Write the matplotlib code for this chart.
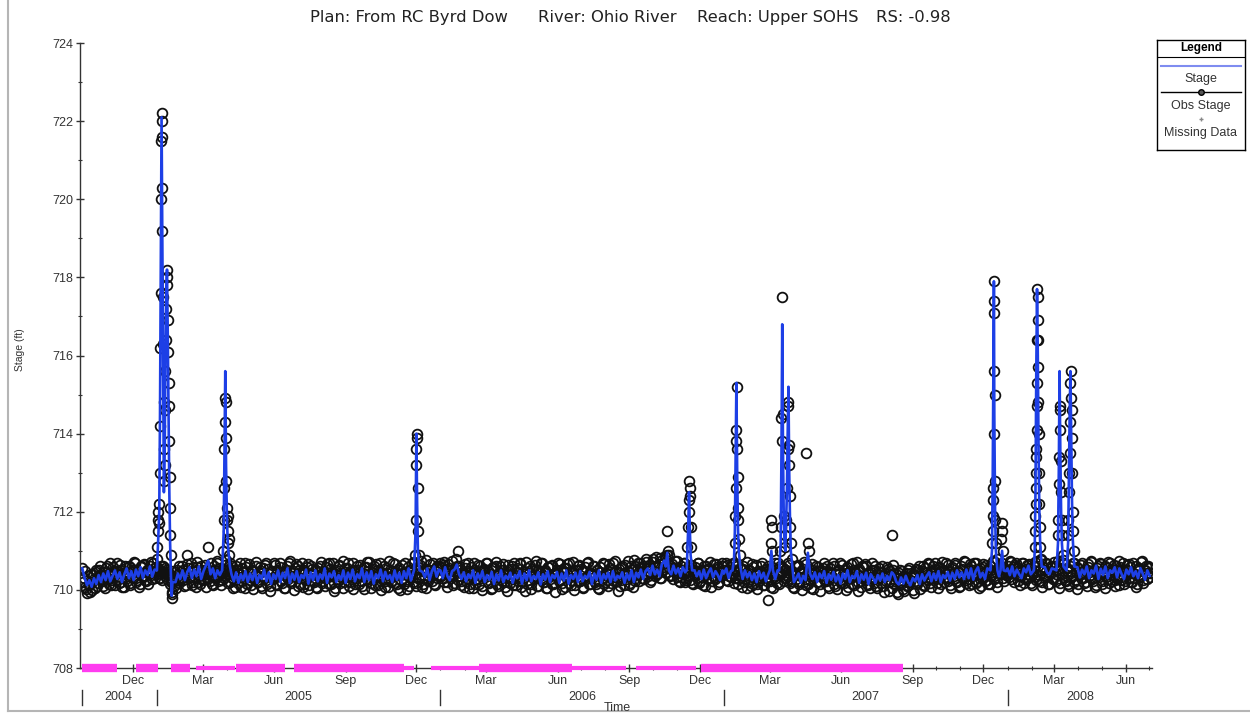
import numpy as np
import matplotlib
matplotlib.use('Agg')
import matplotlib.pyplot as plt
import matplotlib.dates as mdates
from matplotlib.lines import Line2D
from matplotlib.ticker import MultipleLocator
from matplotlib.transforms import blended_transform_factory

plt.rcParams['font.family'] = ['Liberation Sans', 'DejaVu Sans']

# computed stage, one value every 3 days, hundredths of a foot above 710 ft
stage_2004 = [55, 30, 12, 25, 8, 30, 15, 38, 20, 42, 25, 48, 22, 36, 50, 28,
              45, 20, 40, 55, 30, 48, 25, 52, 35, 58, 30, 50, 38, 60, 34, 52]
stage_2005 = [40, 45, 50, 48, 42, 38, 35, 12, 20, 42,
              28, 50, 25, 45, 58, 30, 52, 35, 60, 28,
              48, 62, 75, 40, 55, 30, 50, 38, 45, 60,
              58, 50, 40, 22, 45, 18, 40, 25, 48, 20,
              42, 25, 50, 18, 38, 28, 52, 22, 45, 15,
              40, 28, 50, 20, 44, 30, 55, 18, 42, 26,
              48, 20, 38, 30, 52, 16, 45, 25, 50, 22,
              40, 28, 55, 18, 42, 32, 48, 20, 38, 26,
              50, 18, 44, 28, 52, 22, 40, 30, 55, 20,
              45, 25, 48, 16, 40, 30, 52, 22, 46, 28,
              38, 20, 50, 26, 44, 18, 48, 30, 55, 24,
              42, 35, 50, 28, 46, 32, 55, 25, 48, 60, 34, 52]
stage_2006 = [50, 30, 58, 35, 25, 48, 52, 65, 40, 28,
              45, 22, 40, 30, 50, 18, 42, 28, 48, 20,
              38, 26, 46, 15, 40, 24, 50, 20, 36, 28,
              44, 18, 38, 30, 48, 16, 42, 25, 50, 22,
              36, 28, 45, 14, 40, 26, 48, 20, 38, 30,
              46, 18, 42, 24, 50, 16, 38, 28, 44, 20,
              48, 22, 36, 30, 46, 15, 42, 26, 50, 18,
              40, 28, 44, 20, 48, 24, 36, 30, 45, 18,
              42, 26, 50, 20, 44, 32, 52, 28, 48, 55,
              38, 62, 40, 52, 35, 66, 75, 45, 58, 40,
              62, 42, 55, 35, 58, 45, 52, 38, 30, 50,
              35, 48, 28, 52, 30, 45, 55, 32, 48, 38, 25, 50]
stage_2007 = [42, 55, 30, 48, 38, 50, 55, 35, 28, 50,
              32, 45, 25, 42, 20, 48, 30, 44, 22, 40,
              60, 38, 28, 50, 45, 50, 55, 48, 52, 60,
              50, 30, 42, 18, 36, 25, 95, 40, 28, 45,
              20, 42, 30, 48, 18, 40, 26, 46, 22, 38,
              16, 42, 28, 50, 20, 36, 30, 48, 18, 40,
              26, 44, 15, 40, 30, 18, 38, 24, 42, 20,
              36, 25, 45, 38, 20, 14, 32, 16, 36, 20,
              12, 30, 22, 38, 15, 40, 24, 36, 45, 22,
              42, 26, 48, 20, 38, 30, 46, 24, 44, 28,
              50, 32, 45, 28, 52, 30, 55, 26, 48, 58,
              32, 44, 28, 55, 38, 30, 50, 45, 35, 55, 30, 48]
stage_2008 = [55, 38, 60, 35, 52, 40, 30, 55, 45, 62,
              40, 58, 35, 50, 46, 52, 58, 44, 40, 55,
              53, 45, 50, 41, 48, 55, 47, 52, 60, 50,
              58, 32, 52, 40, 60, 30, 50, 42, 62, 28,
              54, 38, 60, 30, 50, 44, 58, 32, 55, 40,
              28, 52, 40, 58, 35, 48, 30, 56, 42, 26, 50, 36]

# observed stage on even days (every 2 days), hundredths of a foot above 710 ft
obs_2004 = [55, 30, 8, -8, 12, -5, 20, 38, 5, 45,
            18, 52, 28, 10, 47, 33, 60, 15, 42, 25,
            58, 12, 48, 35, 65, 20, 44, 8, 55, 30,
            62, 18, 50, 38, 70, 25, 46, 15, 60, 34,
            66, 22, 52, 40, 72, 28, 56, 45]
obs_2005 = [40, 55, 30, 48, 60, 35, 50, 45, 38, 20,
            -5, 10, 30, 52, 18, 45, 62, 25, 40, 12,
            55, 33, 70, 20, 48, 8, 58, 36, 15, 50,
            28, 65, 42, 40, 22, 46, 12, 60, 30, 75,
            38, 45, 25, 52, 65, 40, 58, 20, 48, 5,
            35, 60, 18, 44, 8, 56, 30, 68, 14, 42,
            25, 50, 2, 38, 62, 20, 45, 10, 55, 32,
            70, 15, 40, -2, 48, 28, 64, 12, 36, 58,
            22, 46, 6, 52, 34, 68, 18, 42, 0, 56,
            30, 62, 16, 44, 8, 50, 26, 66, 12, 38,
            54, 20, 48, 4, 36, 60, 24, 46, 10, 58,
            32, 70, 14, 40, -4, 52, 28, 64, 18, 44,
            6, 56, 34, 68, 20, 42, 2, 50, 30, 62,
            16, 46, 10, 58, 36, 72, 22, 40, 4, 54,
            28, 66, 12, 48, 0, 38, 60, 24, 44, 8,
            52, 32, 70, 18, 42, 6, 56, 26, 64, 14,
            46, 2, 50, 34, 68, 20, 40, 10, 58, 30,
            74, 16, 48, 4, 54, 36, 66, 22, 44, 12,
            60, 38, 70]
obs_2006 = [58, 30, 72, 45, 20, 66, 38, 52, 12, 48,
            80, 35, 60, 22, 44, 8, 56, 30, 68, 16,
            42, 4, 50, 28, 64, 14, 46, 0, 54, 32,
            70, 18, 40, 6, 58, 26, 62, 10, 44, 36,
            66, 20, 48, -2, 52, 30, 60, 12, 38, 56,
            24, 68, 8, 46, 34, 72, 16, 42, 2, 54,
            28, 64, 10, 50, 36, 70, 20, 44, 4, 58,
            32, 62, 14, 40, -6, 52, 26, 66, 18, 46,
            8, 56, 30, 68, 12, 42, 0, 50, 34, 64,
            22, 48, 6, 58, 28, 72, 16, 44, 38, 60,
            14, 52, 2, 46, 30, 66, 20, 40, 10, 56,
            34, 70, 24, 48, -4, 54, 26, 62, 12, 44,
            38, 74, 18, 50, 8, 60, 30, 68, 22, 46,
            56, 28, 72, 40, 64, 20, 52, 78, 36, 60,
            44, 82, 30, 58, 70, 42, 90, 55, 38, 66,
            48, 74, 32, 56, 20, 62, 40, 70, 26, 52,
            36, 64, 18, 46, 58, 30, 68, 24, 50, 12,
            44, 62, 28, 54, 8, 48, 66, 34, 58, 20,
            46, 70, 38]
obs_2007 = [50, 26, 64, 36, 58, 42, 70, 30, 48, 14,
            56, 34, 62, 20, 44, 6, 52, 28, 66, 16,
            40, 2, 48, 30, 60, 12, 38, 54, 24, 44,
            8, 58, 32, 70, 18, 46, 62, 40, 56, 30,
            52, 36, 64, 22, 48, 4, 40, 60, 14, 44,
            0, 54, 28, 66, 16, 42, 6, 50, 32, 62,
            20, 46, -4, 38, 56, 24, 60, 10, 44, 30,
            68, 14, 40, 2, 52, 26, 64, 18, 36, 58,
            8, 48, 30, 70, 12, 42, -2, 54, 22, 60,
            34, 66, 16, 44, 4, 50, 28, 62, 10, 38,
            56, 18, 46, -6, 36, 58, 20, 48, 6, 64,
            24, 40, -10, 50, 14, 32, -4, 44, 10, 56,
            20, 38, -8, 46, 16, 52, 2, 30, 60, 12,
            44, 26, 66, 8, 48, 34, 70, 18, 40, 56,
            14, 50, 30, 68, 22, 46, 4, 58, 36, 64,
            20, 42, 10, 54, 32, 72, 26, 48, 12, 60,
            38, 70, 18, 44, 6, 56, 30, 66, 22, 50,
            14, 62, 36, 74, 28, 46, 8, 58, 40, 68,
            24, 52, 44]
obs_2008 = [60, 32, 72, 44, 20, 64, 38, 56, 12, 48,
            70, 28, 54, 40, 66, 18, 46, 60, 34, 74,
            24, 52, 8, 58, 36, 68, 16, 44, 62, 30,
            72, 22, 50, 6, 56, 40, 76, 26, 48, 14,
            60, 34, 68, 20, 46, 2, 54, 30, 70, 18,
            44, 10, 58, 38, 72, 24, 50, 12, 62, 32,
            66, 16, 42, 4, 56, 28, 70, 22, 48, 10,
            60, 36, 74, 26, 52, 14, 46, 64, 30, 58,
            20, 68, 40, 8, 54, 34, 72, 18, 50, 62,
            28, 56, 44]

# observed stage on odd days (every 2 days), hundredths of a foot above 710 ft
obs2_2004 = [20, 48, 2, 35, 15, 40, 0, 28, 50, 10,
             38, 62, 22, 45, 5, 55, 30, 68, 12, 40,
             48, 25, 70, 18, 52, 8, 40, 62, 22, 46,
             12, 56, 30, 72, 20, 48, 8, 58, 36, 64,
             26, 50, 14, 62, 38, 70, 30, 58]
obs2_2005 = [50, 30, 62, 25, 44, 55, 28, 40, 15, 35,
             48, 22, 6, 40, 60, 28, 52, 10, 44, 66,
             30, 48, 12, 58, 34, 72, 20, 46, 62, 26,
             40, 8, 54, 30, 68, 16, 50, 36, 70, 22,
             56, 12, 44, 30, 76, 18, 50, 34, 62, 26,
             8, 52, 40, 70, 22, 46, 6, 58, 32, 66,
             12, 48, 28, 72, 20, 42, 58, 4, 36, 64,
             26, 54, 10, 46, 30, 68, 14, 50, 38, 70,
             18, 44, 4, 60, 28, 74, 22, 48, 36, 66,
             10, 52, 30, 70, 16, 42, 58, 2, 40, 62,
             24, 50, 8, 56, 34, 72, 18, 44, 30, 66,
             14, 54, 38, 68, 6, 46, 22, 60, 32, 74,
             20, 40, 56, 10, 48, 28, 70, 16, 52, 36,
             64, 24, 44, 2, 58, 30, 72, 18, 46, 62,
             12, 50, 34, 68, 22, 42, 8, 56, 28, 74,
             20, 48, 38, 66, 14, 52, 0, 44, 30, 70,
             24, 58, 10, 46, 36, 72, 18, 54, 28, 64,
             8, 48, 32, 76, 22, 50, 40, 68, 16, 56,
             30, 62]
obs2_2006 = [36, 64, 20, 50, 8, 56, 30, 74, 18, 46,
             62, 26, 52, 12, 40, 66, 22, 48, 4, 58,
             32, 70, 16, 44, 28, 62, 10, 52, 38, 68,
             20, 46, 2, 56, 30, 72, 14, 42, 60, 24,
             50, 8, 38, 64, 18, 54, 28, 70, 12, 46,
             34, 66, 22, 40, -4, 56, 26, 62, 16, 48,
             36, 74, 10, 44, 30, 68, 20, 52, 6, 58,
             28, 64, 14, 42, 38, 70, 22, 50, 2, 56,
             32, 66, 18, 46, 26, 72, 12, 40, 60, 24,
             54, 8, 48, 34, 68, 16, 44, 30, 62, 20,
             50, 4, 58, 36, 70, 14, 42, 26, 66, 18,
             52, 32, 74, 22, 46, 10, 56, 38, 64, 28,
             48, 12, 60, 34, 76, 24, 52, 40, 70, 30,
             62, 44, 80, 36, 58, 26, 72, 48, 84, 40,
             66, 30, 76, 52, 88, 46, 70, 36, 62, 28,
             56, 42, 74, 24, 50, 34, 68, 20, 46, 58,
             26, 64, 14, 52, 38, 70, 18, 44, 32, 60,
             10, 54, 40, 72, 22, 48, 28, 66, 16, 56,
             36, 62]
obs2_2007 = [44, 70, 22, 52, 32, 66, 18, 46, 60, 28,
             40, 8, 54, 36, 72, 20, 48, 10, 58, 30,
             64, 16, 44, 26, 70, 12, 50, 34, 62, 22,
             46, 4, 56, 30, 68, 14, 42, 58, 24, 52,
             36, 70, 18, 44, 8, 60, 28, 64, 20, 48,
             32, 72, 12, 40, 54, 26, 66, 2, 46, 36,
             58, 16, 50, 30, 70, 22, 44, 6, 56, 34,
             62, 10, 48, 28, 68, 18, 40, 52, 0, 44,
             30, 66, 14, 50, 36, 72, 20, 46, 8, 58,
             26, 62, 12, 42, 32, 68, 18, 52, 4, 46,
             30, 60, 10, 44, 22, 54, -2, 38, 50, 14,
             34, -6, 42, 20, 48, 2, 36, 12, 52, 26,
             44, 0, 38, 54, 20, 62, 28, 48, 10, 56,
             32, 68, 18, 42, 60, 26, 50, 6, 58, 36,
             72, 20, 46, 30, 64, 12, 54, 40, 70, 24,
             48, 8, 60, 34, 74, 18, 44, 28, 66, 14,
             52, 38, 70, 22, 48, 10, 58, 32, 64, 26,
             54, 16, 46, 36, 72, 20, 50, 42, 62, 30,
             56, 38]
obs2_2008 = [46, 74, 28, 58, 40, 68, 22, 52, 36, 70,
             18, 48, 64, 30, 56, 12, 44, 72, 26, 60,
             38, 76, 20, 50, 34, 66, 14, 46, 58, 28,
             62, 40, 74, 18, 52, 32, 68, 24, 56, 10,
             48, 38, 70, 26, 58, 16, 44, 64, 30, 52,
             20, 66, 36, 74, 28, 50, 8, 56, 40, 68,
             22, 46, 60, 32, 72, 18, 54, 38, 64, 26,
             48, 12, 58, 34, 70, 24, 52, 40, 66, 20,
             44, 30, 62, 16, 56, 36, 74, 26, 50, 42,
             60, 34]

# flood events, computed stage (ft)
event_stage = [
    ('2005-01-01', 710.5), ('2005-01-02T12', 711.2), ('2005-01-04', 712.0),
    ('2005-01-05', 714.5), ('2005-01-06', 718.5), ('2005-01-07', 722.1),
    ('2005-01-08', 719.0), ('2005-01-09', 715.5), ('2005-01-10', 712.5),
    ('2005-01-11', 713.5), ('2005-01-12', 716.0), ('2005-01-13', 717.6),
    ('2005-01-14', 718.2), ('2005-01-15', 716.5), ('2005-01-16', 714.5),
    ('2005-01-17', 712.5), ('2005-01-18', 711.2), ('2005-01-19', 710.4),
    ('2005-01-20', 709.85), ('2005-01-21', 710.2),
    ('2005-03-26', 710.5), ('2005-03-28', 711.5), ('2005-03-29', 713.5),
    ('2005-03-30', 715.6), ('2005-03-31', 713.2), ('2005-04-01', 712.0),
    ('2005-04-02', 711.3), ('2005-04-03', 711.0), ('2005-04-05', 710.6),
    ('2005-04-07', 710.4),
    ('2005-11-28', 710.5), ('2005-11-30', 711.5), ('2005-12-01', 714.0),
    ('2005-12-02', 712.2), ('2005-12-03', 711.0), ('2005-12-05', 710.5),
    ('2006-10-18', 710.6), ('2006-10-20', 710.95), ('2006-10-22', 710.5),
    ('2006-11-14', 710.5), ('2006-11-16', 711.6), ('2006-11-17', 712.5),
    ('2006-11-18', 711.6), ('2006-11-19', 710.9), ('2006-11-21', 710.5),
    ('2007-01-12', 710.5), ('2007-01-14', 710.8), ('2007-01-15', 711.5),
    ('2007-01-16', 713.5), ('2007-01-17', 715.3), ('2007-01-18', 713.0),
    ('2007-01-19', 711.6), ('2007-01-20', 711.0), ('2007-01-22', 710.6),
    ('2007-03-01', 710.5), ('2007-03-03', 711.0), ('2007-03-05', 710.5),
    ('2007-03-13', 710.5), ('2007-03-15', 711.2), ('2007-03-16', 713.5),
    ('2007-03-17', 716.8), ('2007-03-18', 713.5), ('2007-03-19', 711.8),
    ('2007-03-20', 711.2), ('2007-03-21', 711.0), ('2007-03-23', 712.5),
    ('2007-03-24', 714.0), ('2007-03-25', 715.2), ('2007-03-26', 713.0),
    ('2007-03-27', 711.8), ('2007-03-28', 711.0), ('2007-03-30', 710.6),
    ('2007-04-01', 710.2),
    ('2007-12-10', 710.5), ('2007-12-12', 711.0), ('2007-12-13', 713.0),
    ('2007-12-14T12', 717.9), ('2007-12-15', 714.5), ('2007-12-16', 712.0),
    ('2007-12-17', 711.0), ('2007-12-19', 710.5),
    ('2007-12-23', 710.5), ('2007-12-25', 711.0), ('2007-12-27', 710.5),
    ('2008-02-04', 710.5), ('2008-02-05', 711.0), ('2008-02-06', 712.5),
    ('2008-02-07', 715.5), ('2008-02-08', 717.7), ('2008-02-09', 716.0),
    ('2008-02-10', 713.5), ('2008-02-11', 712.0), ('2008-02-12', 711.2),
    ('2008-02-14', 710.6),
    ('2008-03-04', 710.5), ('2008-03-06', 711.2), ('2008-03-07', 713.0),
    ('2008-03-08', 715.6), ('2008-03-09', 713.5), ('2008-03-10', 712.0),
    ('2008-03-11', 711.2), ('2008-03-13', 710.6),
    ('2008-03-17', 710.5), ('2008-03-19', 711.2), ('2008-03-20', 712.8),
    ('2008-03-21', 714.5), ('2008-03-22', 715.6), ('2008-03-23', 714.0),
    ('2008-03-24', 712.3), ('2008-03-25', 711.3), ('2008-03-27', 710.6),
]

# flood events, observed stage (ft)
event_obs = [
    ('2005-01-01', 710.8), ('2005-01-01T12', 711.1), ('2005-01-02', 711.8),
    ('2005-01-02T12', 711.5), ('2005-01-03', 712.0), ('2005-01-03T12', 711.7),
    ('2005-01-04', 712.2), ('2005-01-04T12', 713.0), ('2005-01-05', 714.2),
    ('2005-01-05T12', 716.2), ('2005-01-06', 717.6), ('2005-01-06T12', 720.0),
    ('2005-01-06T18', 721.5), ('2005-01-07', 722.2), ('2005-01-07T06', 722.0),
    ('2005-01-07T12', 721.6), ('2005-01-07T18', 720.3), ('2005-01-08', 719.2),
    ('2005-01-08T12', 717.5), ('2005-01-09', 716.3), ('2005-01-09T12', 714.8),
    ('2005-01-10', 713.6), ('2005-01-10T12', 712.8), ('2005-01-11', 713.2),
    ('2005-01-11T12', 714.6), ('2005-01-12', 715.6), ('2005-01-12T12', 716.4),
    ('2005-01-13', 717.2), ('2005-01-13T12', 718.0), ('2005-01-14', 718.2),
    ('2005-01-14T12', 717.8), ('2005-01-15', 716.9), ('2005-01-15T12', 716.1),
    ('2005-01-16', 715.3), ('2005-01-16T12', 714.7), ('2005-01-17', 713.8),
    ('2005-01-17T12', 712.9), ('2005-01-18', 712.1), ('2005-01-18T12', 711.4),
    ('2005-01-19', 710.9), ('2005-01-19T12', 710.3), ('2005-01-20', 709.8),
    ('2005-01-20T12', 709.9), ('2005-01-21', 710.2),
    ('2005-02-09', 710.9), ('2005-03-08', 711.1),
    ('2005-03-27', 711.0), ('2005-03-28', 711.8), ('2005-03-28T12', 712.6),
    ('2005-03-29', 713.6), ('2005-03-29T12', 714.3), ('2005-03-30', 714.9),
    ('2005-03-30T12', 714.8), ('2005-03-31', 713.9), ('2005-03-31T12', 712.8),
    ('2005-04-01', 712.1), ('2005-04-01T12', 711.8), ('2005-04-02', 711.5),
    ('2005-04-02T12', 711.9), ('2005-04-03', 711.2), ('2005-04-03T12', 710.9),
    ('2005-04-04', 711.3), ('2005-04-05', 710.7), ('2005-04-06', 710.5),
    ('2005-11-29', 710.9), ('2005-11-30', 711.8), ('2005-11-30T12', 713.2),
    ('2005-12-01', 713.6), ('2005-12-01T12', 714.0), ('2005-12-02', 713.9),
    ('2005-12-02T12', 712.6), ('2005-12-03', 711.5), ('2005-12-04', 710.9),
    ('2006-01-23', 711.0),
    ('2006-10-20', 711.5), ('2006-10-21', 711.0), ('2006-10-22', 710.9),
    ('2006-11-15', 711.1), ('2006-11-16', 711.6), ('2006-11-16T12', 712.0),
    ('2006-11-17', 712.3), ('2006-11-17T12', 712.8), ('2006-11-18', 712.6),
    ('2006-11-18T12', 712.4), ('2006-11-19', 711.6), ('2006-11-20', 711.1),
    ('2007-01-15', 711.2), ('2007-01-15T12', 711.9), ('2007-01-16', 712.6),
    ('2007-01-16T12', 713.8), ('2007-01-17', 714.1), ('2007-01-17T12', 715.2),
    ('2007-01-18', 713.6), ('2007-01-18T12', 712.9), ('2007-01-19', 712.1),
    ('2007-01-19T12', 711.8), ('2007-01-20', 711.3), ('2007-01-21', 710.9),
    ('2007-02-27', 709.75),
    ('2007-03-02', 711.2), ('2007-03-03', 711.8), ('2007-03-03T12', 711.6),
    ('2007-03-04', 711.0),
    ('2007-03-14', 711.0), ('2007-03-15', 711.6), ('2007-03-16', 714.4),
    ('2007-03-16T12', 713.8), ('2007-03-17', 717.5), ('2007-03-18', 714.5),
    ('2007-03-19', 711.9), ('2007-03-20', 711.4), ('2007-03-21', 711.1),
    ('2007-03-22', 711.8), ('2007-03-23', 712.6), ('2007-03-24', 713.6),
    ('2007-03-24T12', 714.8), ('2007-03-25', 714.7), ('2007-03-25T12', 713.7),
    ('2007-03-26', 713.2), ('2007-03-26T12', 712.4), ('2007-03-27', 711.6),
    ('2007-03-28', 711.2), ('2007-03-29', 710.8), ('2007-03-31', 710.4),
    ('2007-04-16', 713.5), ('2007-04-19', 711.2), ('2007-04-20', 711.0),
    ('2007-08-05', 711.4),
    ('2007-12-12', 711.2), ('2007-12-13', 711.5), ('2007-12-13T06', 711.9),
    ('2007-12-13T12', 712.3), ('2007-12-13T18', 712.6), ('2007-12-14', 714.0),
    ('2007-12-14T06', 715.6), ('2007-12-14T12', 717.9), ('2007-12-14T18', 717.4),
    ('2007-12-15', 717.1), ('2007-12-15T12', 715.0), ('2007-12-16', 712.8),
    ('2007-12-16T12', 711.8), ('2007-12-17', 711.2), ('2007-12-18', 710.8),
    ('2007-12-24', 711.3), ('2007-12-25', 711.7), ('2007-12-25T12', 711.5),
    ('2007-12-26', 711.0),
    ('2008-02-05', 711.1), ('2008-02-05T12', 711.5), ('2008-02-06', 711.9),
    ('2008-02-06T06', 712.2), ('2008-02-06T12', 712.6), ('2008-02-06T18', 713.0),
    ('2008-02-07', 713.4), ('2008-02-07T06', 713.6), ('2008-02-07T12', 714.1),
    ('2008-02-07T18', 714.7), ('2008-02-08', 715.3), ('2008-02-08T06', 716.4),
    ('2008-02-08T12', 717.7), ('2008-02-08T18', 717.5), ('2008-02-09', 716.9),
    ('2008-02-09T06', 716.4), ('2008-02-09T12', 715.7), ('2008-02-09T18', 714.8),
    ('2008-02-10', 714.0), ('2008-02-10T12', 713.0), ('2008-02-11', 712.2),
    ('2008-02-11T12', 711.6), ('2008-02-12', 711.1), ('2008-02-13', 710.8),
    ('2008-03-06', 711.4), ('2008-03-06T12', 711.8), ('2008-03-07', 712.7),
    ('2008-03-07T12', 713.4), ('2008-03-08', 714.1), ('2008-03-08T12', 714.7),
    ('2008-03-09', 714.6), ('2008-03-09T12', 713.3), ('2008-03-10', 712.5),
    ('2008-03-10T12', 711.8), ('2008-03-11', 711.4), ('2008-03-12', 710.9),
    ('2008-03-19', 711.4), ('2008-03-19T12', 711.8), ('2008-03-20', 712.5),
    ('2008-03-20T12', 713.0), ('2008-03-21', 713.5), ('2008-03-21T12', 714.3),
    ('2008-03-22', 715.3), ('2008-03-22T12', 715.6), ('2008-03-23', 714.9),
    ('2008-03-23T12', 714.6), ('2008-03-24', 713.9), ('2008-03-24T12', 713.0),
    ('2008-03-25', 712.0), ('2008-03-25T12', 711.5), ('2008-03-26', 711.0),
]

# periods with missing data
missing_main = [('2004-09-27', '2004-11-10'), ('2004-12-05', '2005-01-03'),
                ('2005-01-19', '2005-02-12'), ('2005-04-13', '2005-06-15'),
                ('2005-06-27', '2005-11-15'), ('2006-02-20', '2006-06-20'),
                ('2006-12-02', '2007-08-19')]
missing_partial = [('2005-02-20', '2005-04-12'), ('2005-11-15', '2005-11-28'),
                   ('2005-12-20', '2006-02-20'), ('2006-06-20', '2006-08-28'),
                   ('2006-09-10', '2006-11-26')]

title_parts = ['Plan: From RC Byrd Dow', 'River: Ohio River', 'Reach: Upper SOHS', 'RS: -0.98']
title_x = [310, 538, 697, 876]
stage_color = '#1d3fe6'
missing_color = '#ff3cf0'


def regular(start, step_days, values):
    t = np.datetime64(start, 'h') + np.arange(len(values)) * np.timedelta64(24 * step_days, 'h')
    return t, 710 + np.array(values) / 100.0


def points(pairs):
    t = np.array([np.datetime64(d, 'h') for d, _ in pairs])
    v = np.array([v for _, v in pairs])
    return t, v


stage_parts = [regular('2004-09-27', 3, stage_2004), regular('2005-01-01', 3, stage_2005),
               regular('2006-01-01', 3, stage_2006), regular('2007-01-01', 3, stage_2007),
               regular('2008-01-01', 3, stage_2008)]
obs_parts = [regular('2004-09-27', 2, obs_2004), regular('2005-01-01', 2, obs_2005),
             regular('2006-01-01', 2, obs_2006), regular('2007-01-01', 2, obs_2007),
             regular('2008-01-01', 2, obs_2008),
             regular('2004-09-28', 2, obs2_2004), regular('2005-01-02', 2, obs2_2005),
             regular('2006-01-02', 2, obs2_2006), regular('2007-01-02', 2, obs2_2007),
             regular('2008-01-02', 2, obs2_2008)]

base_t = np.concatenate([p[0] for p in stage_parts])
base_v = np.concatenate([p[1] for p in stage_parts])
ev_t, ev_v = points(event_stage)
# event hydrographs replace the regular samples they overlap
gap = np.abs((base_t[:, None] - ev_t[None, :]) / np.timedelta64(1, 'h')).min(axis=1)
keep = gap > 36
st_t = np.concatenate([base_t[keep], ev_t])
st_v = np.concatenate([base_v[keep], ev_v])
order = np.argsort(st_t)
st_t, st_v = st_t[order], st_v[order]

ob_t, ob_v = points(event_obs)
ob_t = np.concatenate([p[0] for p in obs_parts] + [ob_t])
ob_v = np.concatenate([p[1] for p in obs_parts] + [ob_v])

fig = plt.figure(figsize=(12.5, 7.17), dpi=100)
fig.patch.set_facecolor('white')
ax = fig.add_axes([0.064, 0.0683, 0.8576, 0.8717])

ax.plot(ob_t, ob_v, linestyle='none', marker='o', ms=7, mfc='none',
        mec='#111111', mew=1.3, zorder=2)
ax.plot(st_t, st_v, color=stage_color, lw=1.9, zorder=3)

for s, e in missing_main:
    ax.plot([np.datetime64(s), np.datetime64(e)], [708, 708], color=missing_color,
            lw=6, solid_capstyle='butt', clip_on=False, zorder=5)
for s, e in missing_partial:
    ax.plot([np.datetime64(s), np.datetime64(e)], [708, 708], color=missing_color,
            lw=3, solid_capstyle='butt', clip_on=False, zorder=5)

x0, x1 = np.datetime64('2004-09-24'), np.datetime64('2008-07-05')
ax.set_xlim(x0, x1)
ax.set_ylim(708, 724)

for side in ['top', 'right']:
    ax.spines[side].set_visible(False)
for side in ['left', 'bottom']:
    ax.spines[side].set_color('#333333')
    ax.spines[side].set_linewidth(1.0)

ax.yaxis.set_major_locator(MultipleLocator(2))
ax.yaxis.set_minor_locator(MultipleLocator(1))
ax.xaxis.set_major_locator(mdates.MonthLocator(bymonth=[3, 6, 9, 12]))
ax.xaxis.set_minor_locator(mdates.MonthLocator())
ax.xaxis.set_major_formatter(mdates.DateFormatter('%b'))
ax.tick_params(which='major', direction='inout', length=6, width=1,
               labelsize=9, colors='#333333', pad=2)
ax.tick_params(which='minor', direction='inout', length=3, width=0.8, colors='#333333')

# year labels and separators under the month labels
trans = blended_transform_factory(ax.transData, ax.transAxes)
for yr in range(2004, 2009):
    a = max(np.datetime64(f'{yr}-01-01'), x0)
    b = min(np.datetime64(f'{yr + 1}-01-01'), x1)
    mid = a + (b - a) / 2
    ax.text(mid, -0.047, str(yr), transform=trans, ha='center', va='center',
            fontsize=9, color='#333333')
for d in ['2004-09-27', '2005-01-01', '2006-01-01', '2007-01-01', '2008-01-01']:
    ax.plot([np.datetime64(d), np.datetime64(d)], [-0.035, -0.059], transform=trans,
            color='#333333', lw=1, clip_on=False)

for part, px in zip(title_parts, title_x):
    fig.text(px / 1250, 0.975, part, ha='left', va='center', fontsize=11.8,
             family='DejaVu Sans', color='#222222')
fig.text(617 / 1250, 0.012, 'Time', ha='center', va='center', fontsize=9, color='#333333')
fig.text(0.016, 0.512, 'Stage (ft)', ha='center', va='center', rotation=90,
         fontsize=7.5, color='#333333')

# legend box
lax = fig.add_axes([0.9256, 0.791, 0.0704, 0.1534])
lax.set_xlim(0, 1)
lax.set_ylim(0, 1)
lax.set_xticks([])
lax.set_yticks([])
for s in lax.spines.values():
    s.set_linewidth(1.0)
lax.text(0.5, 0.925, 'Legend', ha='center', va='center', fontsize=8.5, fontweight='bold')
lax.axhline(0.845, color='black', lw=0.8)
lax.plot([0.05, 0.95], [0.764, 0.764], color='#7f8cf0', lw=1.5)
lax.text(0.5, 0.645, 'Stage', ha='center', va='center', fontsize=9, color='#333333')
lax.plot([0.05, 0.95], [0.527, 0.527], color='black', lw=1.0)
lax.plot([0.5], [0.527], marker='o', ms=4, mfc='#555555', mec='black')
lax.text(0.5, 0.40, 'Obs Stage', ha='center', va='center', fontsize=9, color='#333333')
lax.plot([0.5], [0.282], marker='+', ms=3, color='#888888')
lax.text(0.5, 0.155, 'Missing Data', ha='center', va='center', fontsize=9, color='#333333')

# outer frame of the plot window
fig.add_artist(Line2D([8 / 1250, 8 / 1250], [6 / 717, 1], color='#b5b5b5', lw=1.5))
fig.add_artist(Line2D([8 / 1250, 1], [6 / 717, 6 / 717], color='#b5b5b5', lw=1.5))

fig.savefig('out.png', dpi=100)
